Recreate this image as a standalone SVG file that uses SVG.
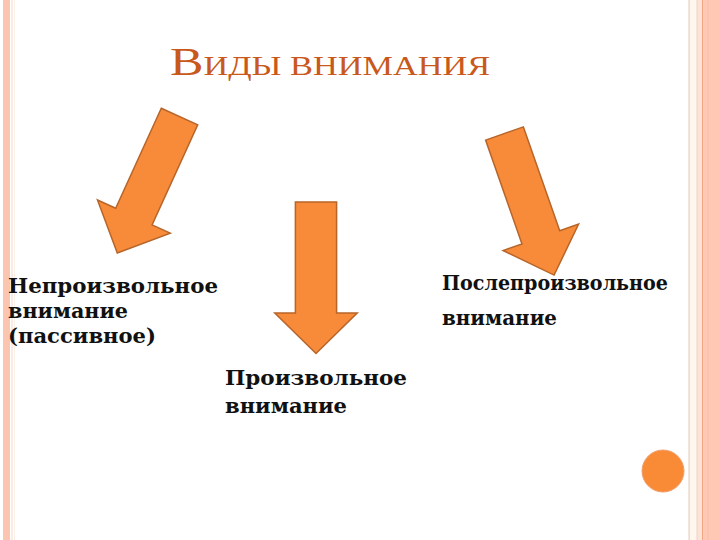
<svg xmlns="http://www.w3.org/2000/svg" width="720" height="540" viewBox="0 0 720 540">
<defs>
<style>
.arrow{fill:#F78B3A;stroke:#B8652A;stroke-width:1.5;stroke-linejoin:miter}
.lbl{font-family:"DejaVu Serif","Liberation Serif",serif;font-weight:bold;font-size:21px;fill:#111}
.title{font-family:"Liberation Serif","Times New Roman",serif;fill:#C9581C}
</style>
<path id="arr" d="M-20,0 L20,0 L20,110 L40,110 L0,150 L-40,110 L-20,110 Z"/>
</defs>
<rect width="720" height="540" fill="#fff"/>
<g id="border-left">
<rect x="3" y="0" width="7" height="540" fill="#FCC5B0"/>
<rect x="11.5" y="0" width="1" height="540" fill="#F5D8CC"/>
<rect x="14" y="0" width="1" height="540" fill="#FBF0E6"/>
</g>
<g id="border-right">
<rect x="688.5" y="0" width="1.2" height="540" fill="#E8CDBE"/>
<rect x="690" y="0" width="6" height="540" fill="#FFF6EE"/>
<rect x="696.5" y="0" width="1.2" height="540" fill="#EFC9B7"/>
<rect x="698" y="0" width="4" height="540" fill="#FDE3D6"/>
<rect x="702" y="0" width="1.5" height="540" fill="#F2A585"/>
<rect x="703.5" y="0" width="16.5" height="540" fill="#FFC8B4"/>
<rect x="707.5" y="0" width="1" height="540" fill="#F8BCA6"/>
</g>
<g id="title">
<text class="title" x="170" y="75" textLength="320" lengthAdjust="spacingAndGlyphs"><tspan font-size="41">В</tspan><tspan font-size="28">ИДЫ ВНИМАНИЯ</tspan></text>
</g>
<g id="connectors">
<use href="#arr" class="arrow" transform="translate(179.5,116.5) rotate(24.5)"/>
<use href="#arr" class="arrow" transform="translate(316,202) scale(1.03,1.01)"/>
<use href="#arr" class="arrow" transform="translate(504.5,133.5) rotate(-19.3)"/>
</g>
<g id="node-involuntary">
<text class="lbl" x="8" y="293" textLength="210" lengthAdjust="spacingAndGlyphs">Непроизвольное</text>
<text class="lbl" x="8" y="318" textLength="120" lengthAdjust="spacingAndGlyphs">внимание</text>
<text class="lbl" x="8" y="343" textLength="148" lengthAdjust="spacingAndGlyphs">(пассивное)</text>
</g>
<g id="node-voluntary">
<text class="lbl" x="225" y="385" textLength="182" lengthAdjust="spacingAndGlyphs">Произвольное</text>
<text class="lbl" x="225" y="413" textLength="122" lengthAdjust="spacingAndGlyphs">внимание</text>
</g>
<g id="node-postvoluntary">
<text class="lbl" x="442" y="290" textLength="226" lengthAdjust="spacingAndGlyphs">Послепроизвольное</text>
<text class="lbl" x="442" y="325" textLength="115" lengthAdjust="spacingAndGlyphs">внимание</text>
</g>
<g id="decor-circle">
<circle cx="663" cy="471" r="21" fill="#F98A36" stroke="#F0A070" stroke-width="1"/>
</g>
</svg>
